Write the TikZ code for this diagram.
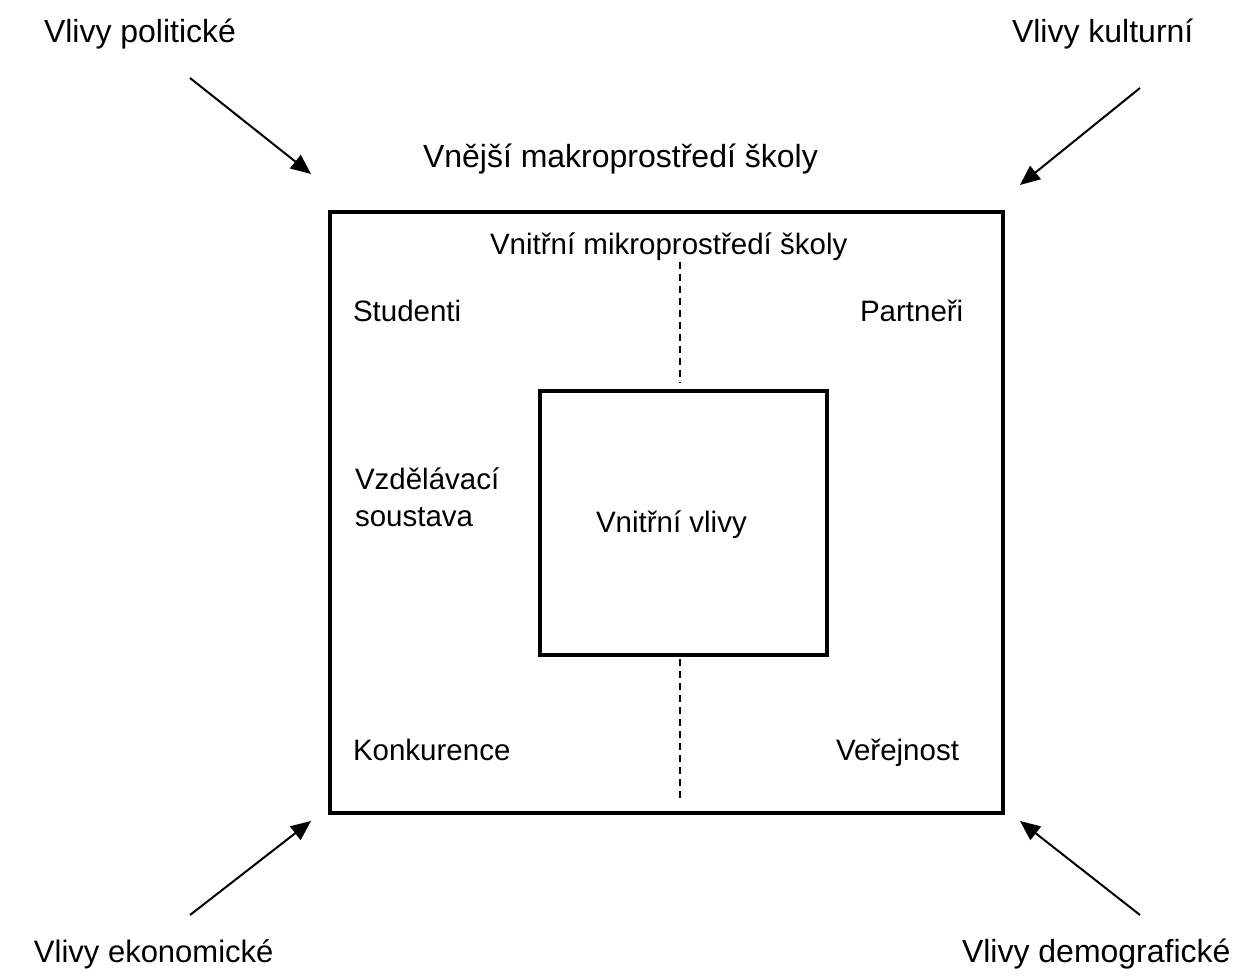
\documentclass[tikz,border=0pt]{standalone}
\usepackage{fontspec}
\setmainfont{Liberation Sans}
\usetikzlibrary{arrows.meta}
\tikzset{
  lbl/.style={anchor=base west, inner sep=0pt, outer sep=0pt, font=\fontsize{32}{36}\selectfont},
  ilbl/.style={anchor=base west, inner sep=0pt, outer sep=0pt, font=\fontsize{29.5}{34}\selectfont},
  box/.style={draw, line width=4pt, inner sep=0pt, outer sep=0pt},
  infl/.style={line width=2pt, -{Triangle[length=20pt,width=17pt]}},
  divider/.style={line width=1.6pt, dash pattern=on 7pt off 5pt}
}
\begin{document}
\begin{tikzpicture}[x=1pt,y=-1pt]
\useasboundingbox (0,0) rectangle (1235,976);
% boxes
\node[box, minimum width=673pt, minimum height=601pt] (outer) at (666.5,512.5) {};
\node[box, minimum width=287pt, minimum height=264pt] (inner) at (683.5,523) {};
% labels
\node[lbl] (pol) at (44,43) {Vlivy politické};
\node[lbl] (kul) at (1012,43) {Vlivy kulturní};
\node[lbl, font=\fontsize{31}{35}\selectfont] (eko) at (34,962) {Vlivy ekonomické};
\node[lbl] (dem) at (962,962) {Vlivy demografické};
\node[lbl] (makro) at (423,168) {Vnější makroprostředí školy};
\node[ilbl] (mikro) at (490,255) {Vnitřní mikroprostředí školy};
\node[ilbl] (stud) at (353,322) {Studenti};
\node[ilbl] (part) at (860,322) {Partneři};
\node[ilbl] (vzd) at (355,489) {Vzdělávací};
\node[ilbl] (sous) at (355,526) {soustava};
\node[ilbl] (vv) at (596,532) {Vnitřní vlivy};
\node[ilbl] (konk) at (353,760) {Konkurence};
\node[ilbl] (ver) at (836,760) {Veřejnost};
% arrow ends
\coordinate (tlS) at (190,78);  \coordinate (tlE) at (311,174);
\coordinate (trS) at (1140,88); \coordinate (trE) at (1020,185);
\coordinate (blS) at (190,915); \coordinate (blE) at (311,821);
\coordinate (brS) at (1140,915);\coordinate (brE) at (1020,821);
\draw[infl] (tlS) -- (tlE);
\draw[infl] (trS) -- (trE);
\draw[infl] (blS) -- (blE);
\draw[infl] (brS) -- (brE);
% dashed dividers
\coordinate (dTop) at (680,262);
\coordinate (dTopE) at (680,383);
\coordinate (dBot) at (680,659);
\coordinate (dBotE) at (680,800);
\draw[divider] (dTop) -- (dTopE);
\draw[divider] (dBot) -- (dBotE);
\end{tikzpicture}
\end{document}
